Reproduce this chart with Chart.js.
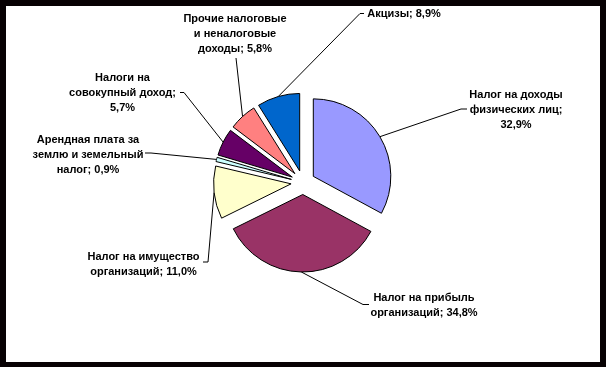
<!DOCTYPE html>
<html>
<head>
<meta charset="utf-8">
<script src="https://cdn.jsdelivr.net/npm/chart.js@4/dist/chart.umd.min.js"></script>
<style>
  html, body { margin: 0; padding: 0; background: #fff; }
  #wrap { position: relative; width: 606px; height: 367px; background: #fff; overflow: hidden; }
  #c { position: absolute; left: 0; top: 0; }
  #frame { position: absolute; left: 0; top: 0; width: 606px; height: 367px; box-sizing: border-box;
           border-style: solid; border-color: #070103; border-width: 6px 6px 5px 6px; pointer-events: none; }
</style>
</head>
<body>
<div id="wrap">
  <canvas id="c" width="606" height="367"></canvas>
  <div id="frame"></div>
</div>
<script>
// ---- data ----
const categories = [
  'Налог на доходы физических лиц',
  'Налог на прибыль организаций',
  'Налог на имущество организаций',
  'Арендная плата за землю и земельный налог',
  'Налоги на совокупный доход',
  'Прочие налоговые и неналоговые доходы',
  'Акцизы'
];
const shares = [32.9, 34.8, 11.0, 0.9, 5.7, 5.8, 8.9];

// ---- styles / layout ----
const sliceColors = ['#9999FF', '#993366', '#FFFFCC', '#CCFFFF', '#660066', '#FF8080', '#0066CC'];
const labelWordsPerLine = [[3, 2, 1], [3, 2], [3, 2], [3, 3, 2], [2, 2, 1], [2, 2, 2], [2]];
const labelCenters = [[516, 110], [424, 305.5], [143.5, 264.5], [88, 154.5], [122.5, 92.5], [235, 34], [404, 13.5]];
const leaderEnds   = [[467, 109], [369, 304.5], [203, 262], [145, 153], [180, 92.5], [236, 58], [364, 13.5]];
const leaderElbows = [[461, 109], [363, 304.5], [208, 262], [151, 153], [184, 92.5], null, [360, 13.5]];
const EXPLODE = 12;
const PIE_RADIUS = 77.5;
const LINE_H = 15;
const LABEL_FONT = "bold 11px 'Liberation Sans', Arial, sans-serif";

function fmtShare(v) { return v.toFixed(1).replace('.', ',') + '%'; }

// exploded slices: translate each arc outward along its mid-angle
const baseArcDraw = Chart.ArcElement.prototype.draw;
Chart.ArcElement.prototype.draw = function (ctx) {
  const half = (this.startAngle + this.endAngle) / 2;
  ctx.save();
  ctx.translate(Math.cos(half) * EXPLODE, Math.sin(half) * EXPLODE);
  baseArcDraw.call(this, ctx);
  ctx.restore();
};

const pieLabels = {
  id: 'pieLabels',
  afterDatasetsDraw(chart) {
    const ctx = chart.ctx;
    const arcs = chart.getDatasetMeta(0).data;
    ctx.save();
    ctx.strokeStyle = '#000';
    ctx.lineWidth = 1;
    ctx.fillStyle = '#000';
    ctx.font = LABEL_FONT;
    ctx.textAlign = 'center';
    ctx.textBaseline = 'middle';
    arcs.forEach((arc, i) => {
      const mid = (arc.startAngle + arc.endAngle) / 2;
      const r = arc.outerRadius + EXPLODE;
      const sx = arc.x + Math.cos(mid) * r;
      const sy = arc.y + Math.sin(mid) * r;
      ctx.beginPath();
      ctx.moveTo(sx, sy);
      if (leaderElbows[i]) ctx.lineTo(leaderElbows[i][0], leaderElbows[i][1]);
      ctx.lineTo(leaderEnds[i][0], leaderEnds[i][1]);
      ctx.stroke();

      const words = (categories[i] + '; ' + fmtShare(shares[i])).split(' ');
      let k = 0;
      const lines = labelWordsPerLine[i].map(n => words.slice(k, k += n).join(' '));
      const [cx, cy] = labelCenters[i];
      lines.forEach((ln, j) => {
        ctx.fillText(ln, cx, cy + (j - (lines.length - 1) / 2) * LINE_H);
      });
    });
    ctx.restore();
  }
};

new Chart(document.getElementById('c'), {
  type: 'pie',
  data: {
    labels: categories,
    datasets: [{
      data: shares,
      backgroundColor: sliceColors,
      borderColor: '#000',
      borderWidth: 1,
      radius: PIE_RADIUS
    }]
  },
  options: {
    responsive: false,
    animation: false,
    events: [],
    layout: { padding: { top: 0, bottom: 2, left: 0, right: 0 } },
    plugins: {
      legend: { display: false },
      tooltip: { enabled: false },
      title: { display: false }
    }
  },
  plugins: [pieLabels]
});
</script>
</body>
</html>
